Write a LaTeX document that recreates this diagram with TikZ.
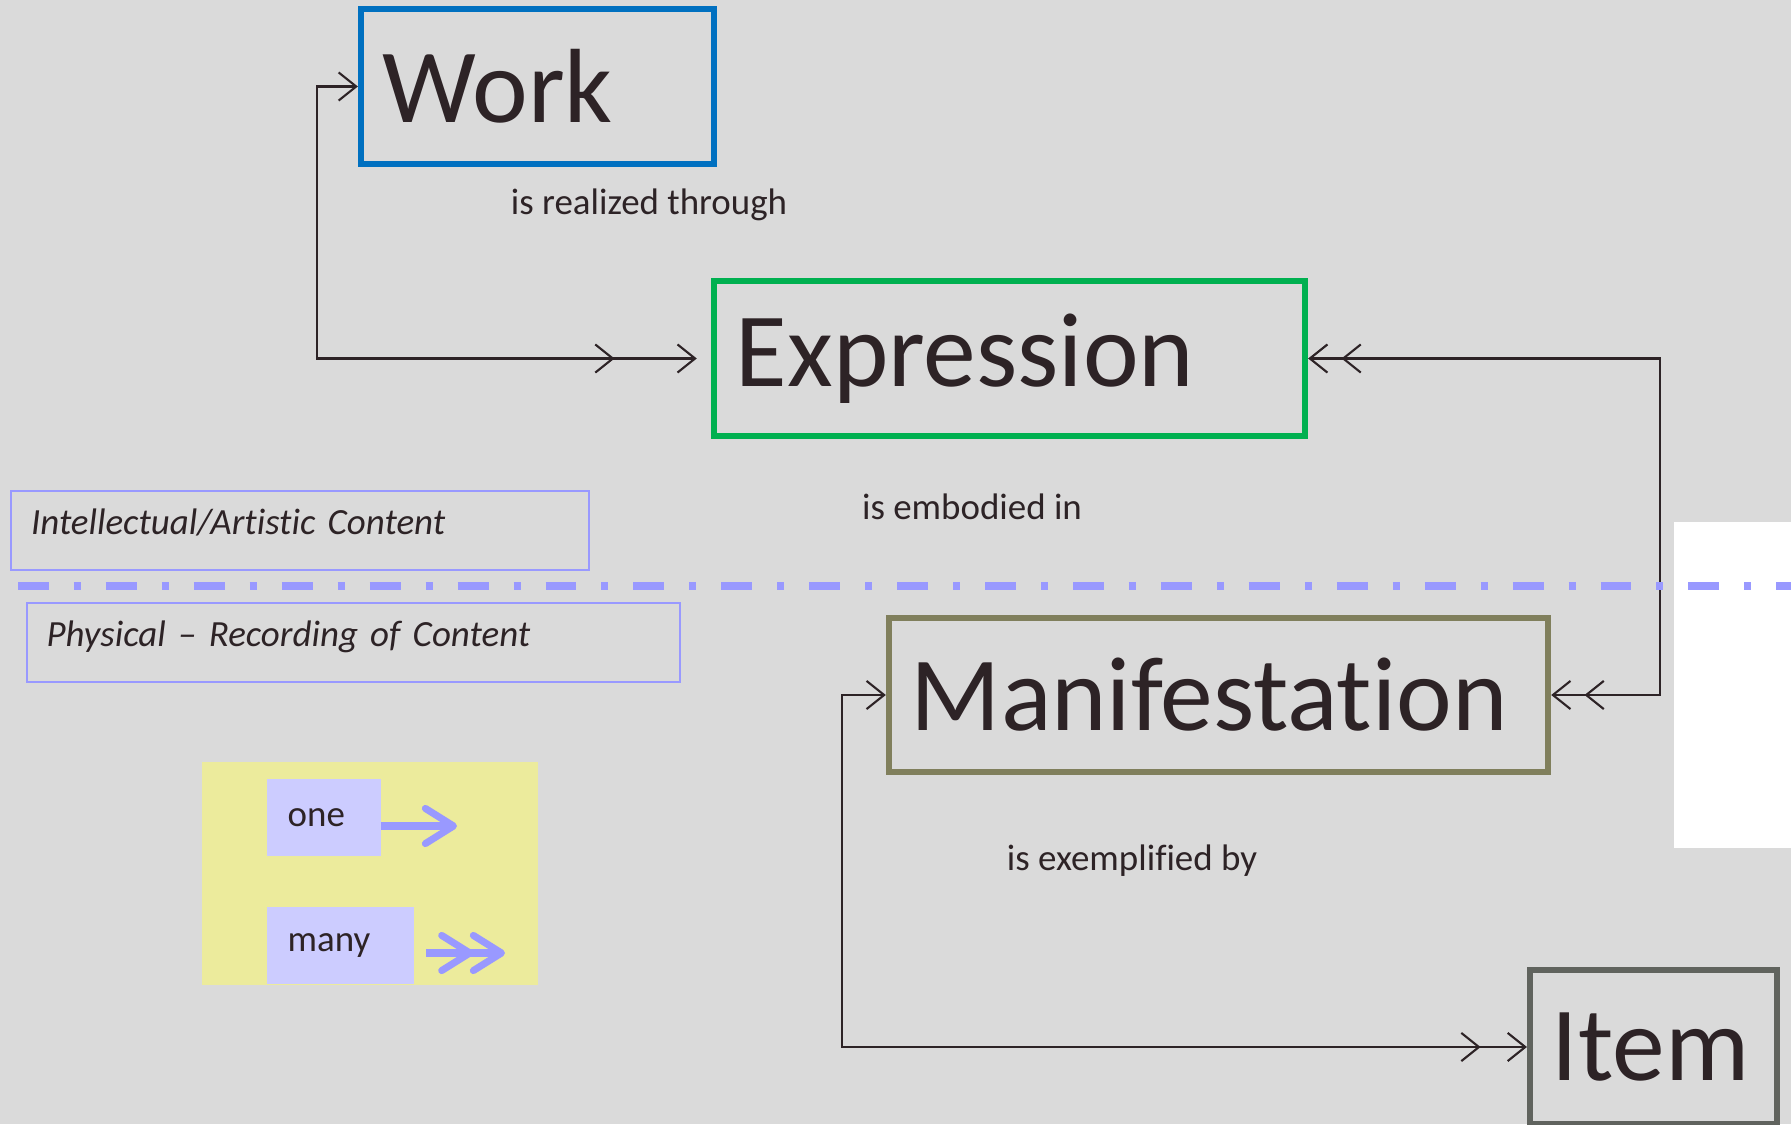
\documentclass[tikz,border=0pt]{standalone}
\usepackage{fontspec}
\setmainfont{Carlito}[Ligatures={NoCommon}]
\usetikzlibrary{arrows.meta,positioning}

\definecolor{canvas}{HTML}{DADADA}
\definecolor{workblue}{HTML}{0070C0}
\definecolor{exprgreen}{HTML}{00B050}
\definecolor{maniolive}{HTML}{807F5C}
\definecolor{itemgray}{HTML}{60635E}
\definecolor{ink}{HTML}{2D2326}
\definecolor{lavender}{HTML}{9999FF}
\definecolor{lilac}{HTML}{CCCCFF}
\definecolor{legendyellow}{HTML}{ECEB9C}

\tikzset{
  entity/.style={draw, line width=1.7pt, minimum height=1.54cm, inner xsep=0.22cm, align=left, text=ink, font=\fontsize{30}{36}\selectfont},
  relation/.style={text=ink, font=\fontsize{10.5}{12.6}\selectfont},
  realm/.style={draw=lavender, line width=0.6pt, inner xsep=0.2cm, inner ysep=0.1cm, text height=0.33cm, text depth=0.26cm, align=left, text=ink, font=\fontsize{10.5}{12.6}\selectfont\itshape},
  card/.style={fill=lilac, minimum height=0.77cm, inner xsep=0.21cm, align=left, text=ink, font=\fontsize{10.5}{12.6}\selectfont},
  link/.style={draw=ink, line width=0.6pt},
  legendarrow/.style={draw=lavender, line width=2pt}
}

\begin{document}
\begin{tikzpicture}[x=0.01cm, y=-0.01cm, line join=miter]
	%Canvas
	\useasboundingbox (0,0) rectangle (1791,1124);
	\fill[canvas] (0,0) rectangle (1791,1124);
	\fill[white] (1674,522) rectangle (1791,848);

	%Entities
	\node[entity, draw=workblue, minimum width=3.53cm, text width=3.09cm] (Work) at (537.5,86.5) {Work};
	\node[entity, draw=exprgreen, minimum width=5.91cm, text width=5.47cm] (Expression) at (1009.5,358.5) {Expression};
	\node[entity, draw=maniolive, minimum width=6.59cm, text width=6.15cm] (Manifestation) at (1218.5,695) {Manifestation};
	\node[entity, draw=itemgray, minimum width=2.47cm, text width=2.03cm] (Item) at (1653.5,1047) {Item};

	%Relationship labels
	\node[relation] (realized) at (649,205) {is realized through};
	\node[relation] (embodied) at (972,507) {is embodied in};
	\node[relation] (exemplified) at (1132,861) {is exemplified by};

	%Connectors
	\draw[link, {Straight Barb[length=5pt,width=8pt]}-{Straight Barb[length=5pt,width=8pt,sep=17.6pt]Straight Barb[length=5pt,width=8pt]}, shorten >=4pt]
		(Work.west) -- ++(-41,0) |- (Expression.west);
	\draw[link, {Straight Barb[length=5pt,width=8pt]Straight Barb[length=5pt,width=8pt,sep=3.7pt]}-{Straight Barb[length=5pt,width=8pt,sep=3.7pt]Straight Barb[length=5pt,width=8pt]}]
		(Expression.east) -- ++(352,0) |- (Manifestation.east);
	\draw[link, {Straight Barb[length=5pt,width=8pt]}-{Straight Barb[length=5pt,width=8pt,sep=7.4pt]Straight Barb[length=5pt,width=8pt]}]
		(Manifestation.west) -- ++(-44,0) |- (Item.west);

	%Realms
	\node[realm, anchor=north west, text width=5.38cm] (intellectual) at (10,490) {Intellectual/Artistic Content};
	\node[realm, anchor=north west, text width=6.13cm] (physical) at (25.5,602) {Physical -- Recording of Content};
	\draw[lavender, line width=2pt, dash pattern=on 8.8pt off 7.1pt on 2pt off 7.1pt] (18,586) -- (1791,586);

	%Legend
	\node[fill=legendyellow, minimum width=3.36cm, minimum height=2.23cm] (legend) at (370,873.5) {};
	\node[card, anchor=north west, minimum width=1.14cm, text width=0.72cm] (one) at (266,778) {one};
	\node[card, anchor=north west, minimum width=1.47cm, text width=1.05cm] (many) at (266,906) {many};
	\coordinate (oneTip) at (457,826);
	\coordinate (manyTail) at (426,953);
	\coordinate (manyTip) at (505,953);
	\draw[legendarrow, -{Straight Barb[length=8pt,width=10pt,round]}] (one.east |- oneTip) -- (oneTip);
	\draw[legendarrow, -{Straight Barb[length=8pt,width=10pt,round,sep=-1pt]Straight Barb[length=8pt,width=10pt,round]}] (manyTail) -- (manyTip);
\end{tikzpicture}
\end{document}
